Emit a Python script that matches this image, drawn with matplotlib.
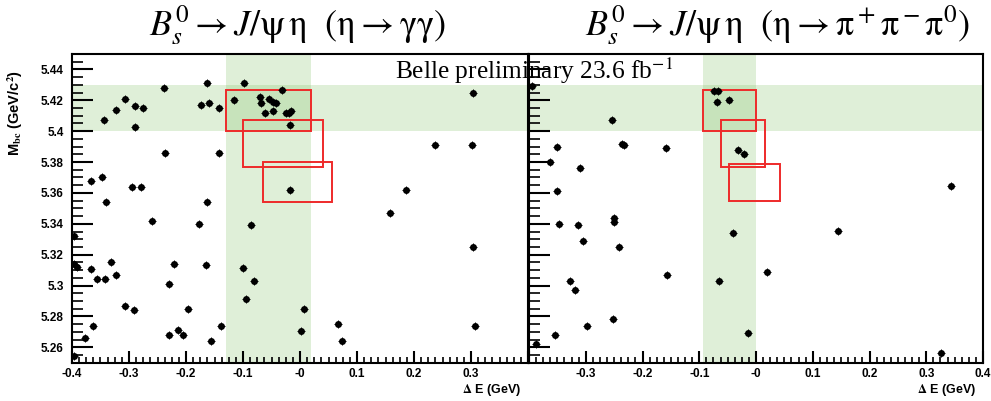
import matplotlib
matplotlib.use("Agg")
import matplotlib.pyplot as plt
from matplotlib.patches import Rectangle
from matplotlib.ticker import MultipleLocator, FixedLocator
import numpy as np

plt.rcParams['mathtext.fontset'] = 'stix'

# ---------------- data ----------------
left_de = [-0.343, -0.322, -0.307, -0.290, -0.275, -0.290, -0.238, -0.163, -0.173, -0.159,
           -0.142, -0.116, -0.098, -0.070, -0.068, -0.054, -0.048, -0.042, -0.032, -0.061,
           -0.047, -0.025, -0.019, -0.016, -0.018, 0.303,
           -0.236, -0.142, -0.366, -0.348, -0.294, -0.279, -0.341, -0.163, -0.018, 0.237,
           0.301, 0.186, 0.158, -0.260, -0.178, -0.086,
           -0.397, -0.396, -0.392, -0.367, -0.357, -0.342, -0.332, -0.322, -0.307, -0.291,
           -0.364, -0.378, -0.396, -0.2205, -0.229, -0.165, -0.197, -0.214, -0.206, -0.230,
           -0.157, -0.139, -0.100, -0.081, -0.094, 0.007, 0.002, 0.304, 0.066, 0.074, 0.307]
left_mbc = [5.407, 5.414, 5.421, 5.416, 5.415, 5.4025, 5.428, 5.431, 5.417, 5.418,
            5.415, 5.420, 5.431, 5.422, 5.418, 5.421, 5.419, 5.418, 5.427, 5.412,
            5.413, 5.412, 5.412, 5.413, 5.404, 5.4245,
            5.386, 5.386, 5.368, 5.3705, 5.364, 5.364, 5.354, 5.354, 5.362, 5.391,
            5.391, 5.362, 5.347, 5.342, 5.340, 5.339,
            5.332, 5.314, 5.312, 5.3105, 5.304, 5.304, 5.315, 5.307, 5.287, 5.284,
            5.274, 5.266, 5.2545, 5.314, 5.301, 5.313, 5.285, 5.271, 5.268, 5.268,
            5.264, 5.274, 5.3115, 5.303, 5.291, 5.285, 5.2705, 5.325, 5.275, 5.264, 5.274]

right_de = [-0.395, -0.074, -0.067, -0.069, -0.047, -0.254, -0.351, -0.237, -0.232, -0.158,
            -0.363, -0.310, -0.351, -0.031, -0.022, -0.251, -0.251, -0.348, -0.313, -0.304,
            -0.241, -0.157, -0.328, -0.319, -0.040, -0.066, -0.298, -0.252, -0.354, -0.388,
            -0.014, 0.344, 0.144, 0.020, 0.326]
right_mbc = [5.429, 5.426, 5.426, 5.419, 5.420, 5.407, 5.390, 5.392, 5.391, 5.389,
             5.380, 5.376, 5.361, 5.388, 5.385, 5.344, 5.341, 5.340, 5.339, 5.329,
             5.325, 5.307, 5.303, 5.297, 5.334, 5.303, 5.274, 5.278, 5.268, 5.262,
             5.269, 5.3645, 5.3355, 5.309, 5.256]

mbc_band = (5.40, 5.43)
left_de_band = (-0.13, 0.02)
right_de_band = (-0.093, 0.0)

# boxes: (de_min, de_max, mbc_min, mbc_max)
left_boxes = [(-0.13, 0.02, 5.40, 5.427), (-0.10, 0.04, 5.377, 5.407), (-0.065, 0.057, 5.354, 5.380)]
right_boxes = [(-0.093, 0.0, 5.40, 5.427), (-0.062, 0.016, 5.377, 5.407), (-0.047, 0.043, 5.355, 5.379)]

left_xticklabels = ["-0.4", "-0.3", "-0.2", "-0.1", "-0", "0.1", "0.2", "0.3", ""]
right_xticklabels = ["", "-0.3", "-0.2", "-0.1", "-0", "0.1", "0.2", "0.3", "0.4"]
yticklabels = ["5.26", "5.28", "5.3", "5.32", "5.34", "5.36", "5.38", "5.4", "5.42", "5.44"]

left_title = r"$B_s^0 \rightarrow J/\mathrm{\psi}\,\mathrm{\eta}\ \ (\mathrm{\eta} \rightarrow \mathrm{\gamma\gamma})$"
right_title = r"$B_s^0 \rightarrow J/\mathrm{\psi}\,\mathrm{\eta}\ \ (\mathrm{\eta} \rightarrow \mathrm{\pi}^+\mathrm{\pi}^-\mathrm{\pi}^0)$"

# ---------------- figure ----------------
W, H = 991, 401
fig = plt.figure(figsize=(W / 100, H / 100), dpi=100)

def frac(l, r, t, b):
    return [l / W, 1 - b / H, (r - l) / W, (b - t) / H]

ax1 = fig.add_axes(frac(72, 528, 54, 362.7))
ax2 = fig.add_axes(frac(529, 983, 54, 362.7))

green = (0.55, 0.78, 0.45)
tickfont = dict(family="Liberation Sans", weight="bold", size=8.5)

for ax, de, mbc, deband, boxes, xtl in [
        (ax1, left_de, left_mbc, left_de_band, left_boxes, left_xticklabels),
        (ax2, right_de, right_mbc, right_de_band, right_boxes, right_xticklabels)]:
    ax.set_xlim(-0.4, 0.4)
    ax.set_ylim(5.25, 5.45)
    ax.axhspan(mbc_band[0], mbc_band[1], color=green, alpha=0.28, lw=0, zorder=0)
    ax.axvspan(deband[0], deband[1], color=green, alpha=0.28, lw=0, zorder=0)
    for (x0, x1, y0, y1) in boxes:
        ax.add_patch(Rectangle((x0, y0), x1 - x0, y1 - y0, fill=False,
                               edgecolor="#ee2a2a", lw=1.4, zorder=2))
    ax.plot(de, mbc, "o", color="black", ms=5.0, mew=0, zorder=3)
    ax.plot(de, mbc, "+", color="black", ms=6.0, mew=0.7, zorder=3)
    for s in ax.spines.values():
        s.set_linewidth(1.5)
        s.set_color("black")
    ax.xaxis.set_major_locator(FixedLocator(np.round(np.arange(-0.4, 0.41, 0.1), 2)))
    ax.xaxis.set_minor_locator(MultipleLocator(0.0125))
    ax.yaxis.set_major_locator(FixedLocator(np.round(np.arange(5.26, 5.441, 0.02), 2)))
    ax.yaxis.set_minor_locator(MultipleLocator(0.005))
    ax.set_xticklabels(xtl, fontdict=tickfont)
    ax.tick_params(axis="x", which="major", direction="in", length=9, width=1.5, pad=4,
                   top=False, bottom=True)
    ax.tick_params(axis="x", which="minor", direction="in", length=4.5, width=1.2,
                   top=False, bottom=True)
    ax.tick_params(axis="y", which="major", direction="in", length=15, width=1.5, pad=6,
                   right=False, left=True)
    ax.tick_params(axis="y", which="minor", direction="in", length=8, width=1.2,
                   right=False, left=True)
    ax.text(0.985, -0.088, r"$\mathbf{\Delta}$ E (GeV)", transform=ax.transAxes,
            ha="right", va="center", fontfamily="Liberation Sans", fontweight="bold", fontsize=9)

ax1.set_yticklabels(yticklabels, fontdict=tickfont)
ax2.set_yticklabels([])

fig.text(15 / W, 1 - 70 / H, r"M$_{\mathbf{bc}}$ (GeV/c$^{\mathbf{2}}$)", rotation=90,
         ha="center", va="top", fontfamily="Liberation Sans", fontweight="bold", fontsize=10.5)

fig.text(297 / W, 1 - 25 / H, left_title, ha="center", va="center", fontsize=26)
fig.text(778 / W, 1 - 25 / H, right_title, ha="center", va="center", fontsize=26)

fig.text(395 / W, 1 - 79 / H, r"Belle preliminary 23.6 fb$^{-1}$", ha="left", va="baseline",
         fontfamily="Liberation Serif", fontsize=18.3, zorder=10)

fig.savefig("out.png", dpi=100)
